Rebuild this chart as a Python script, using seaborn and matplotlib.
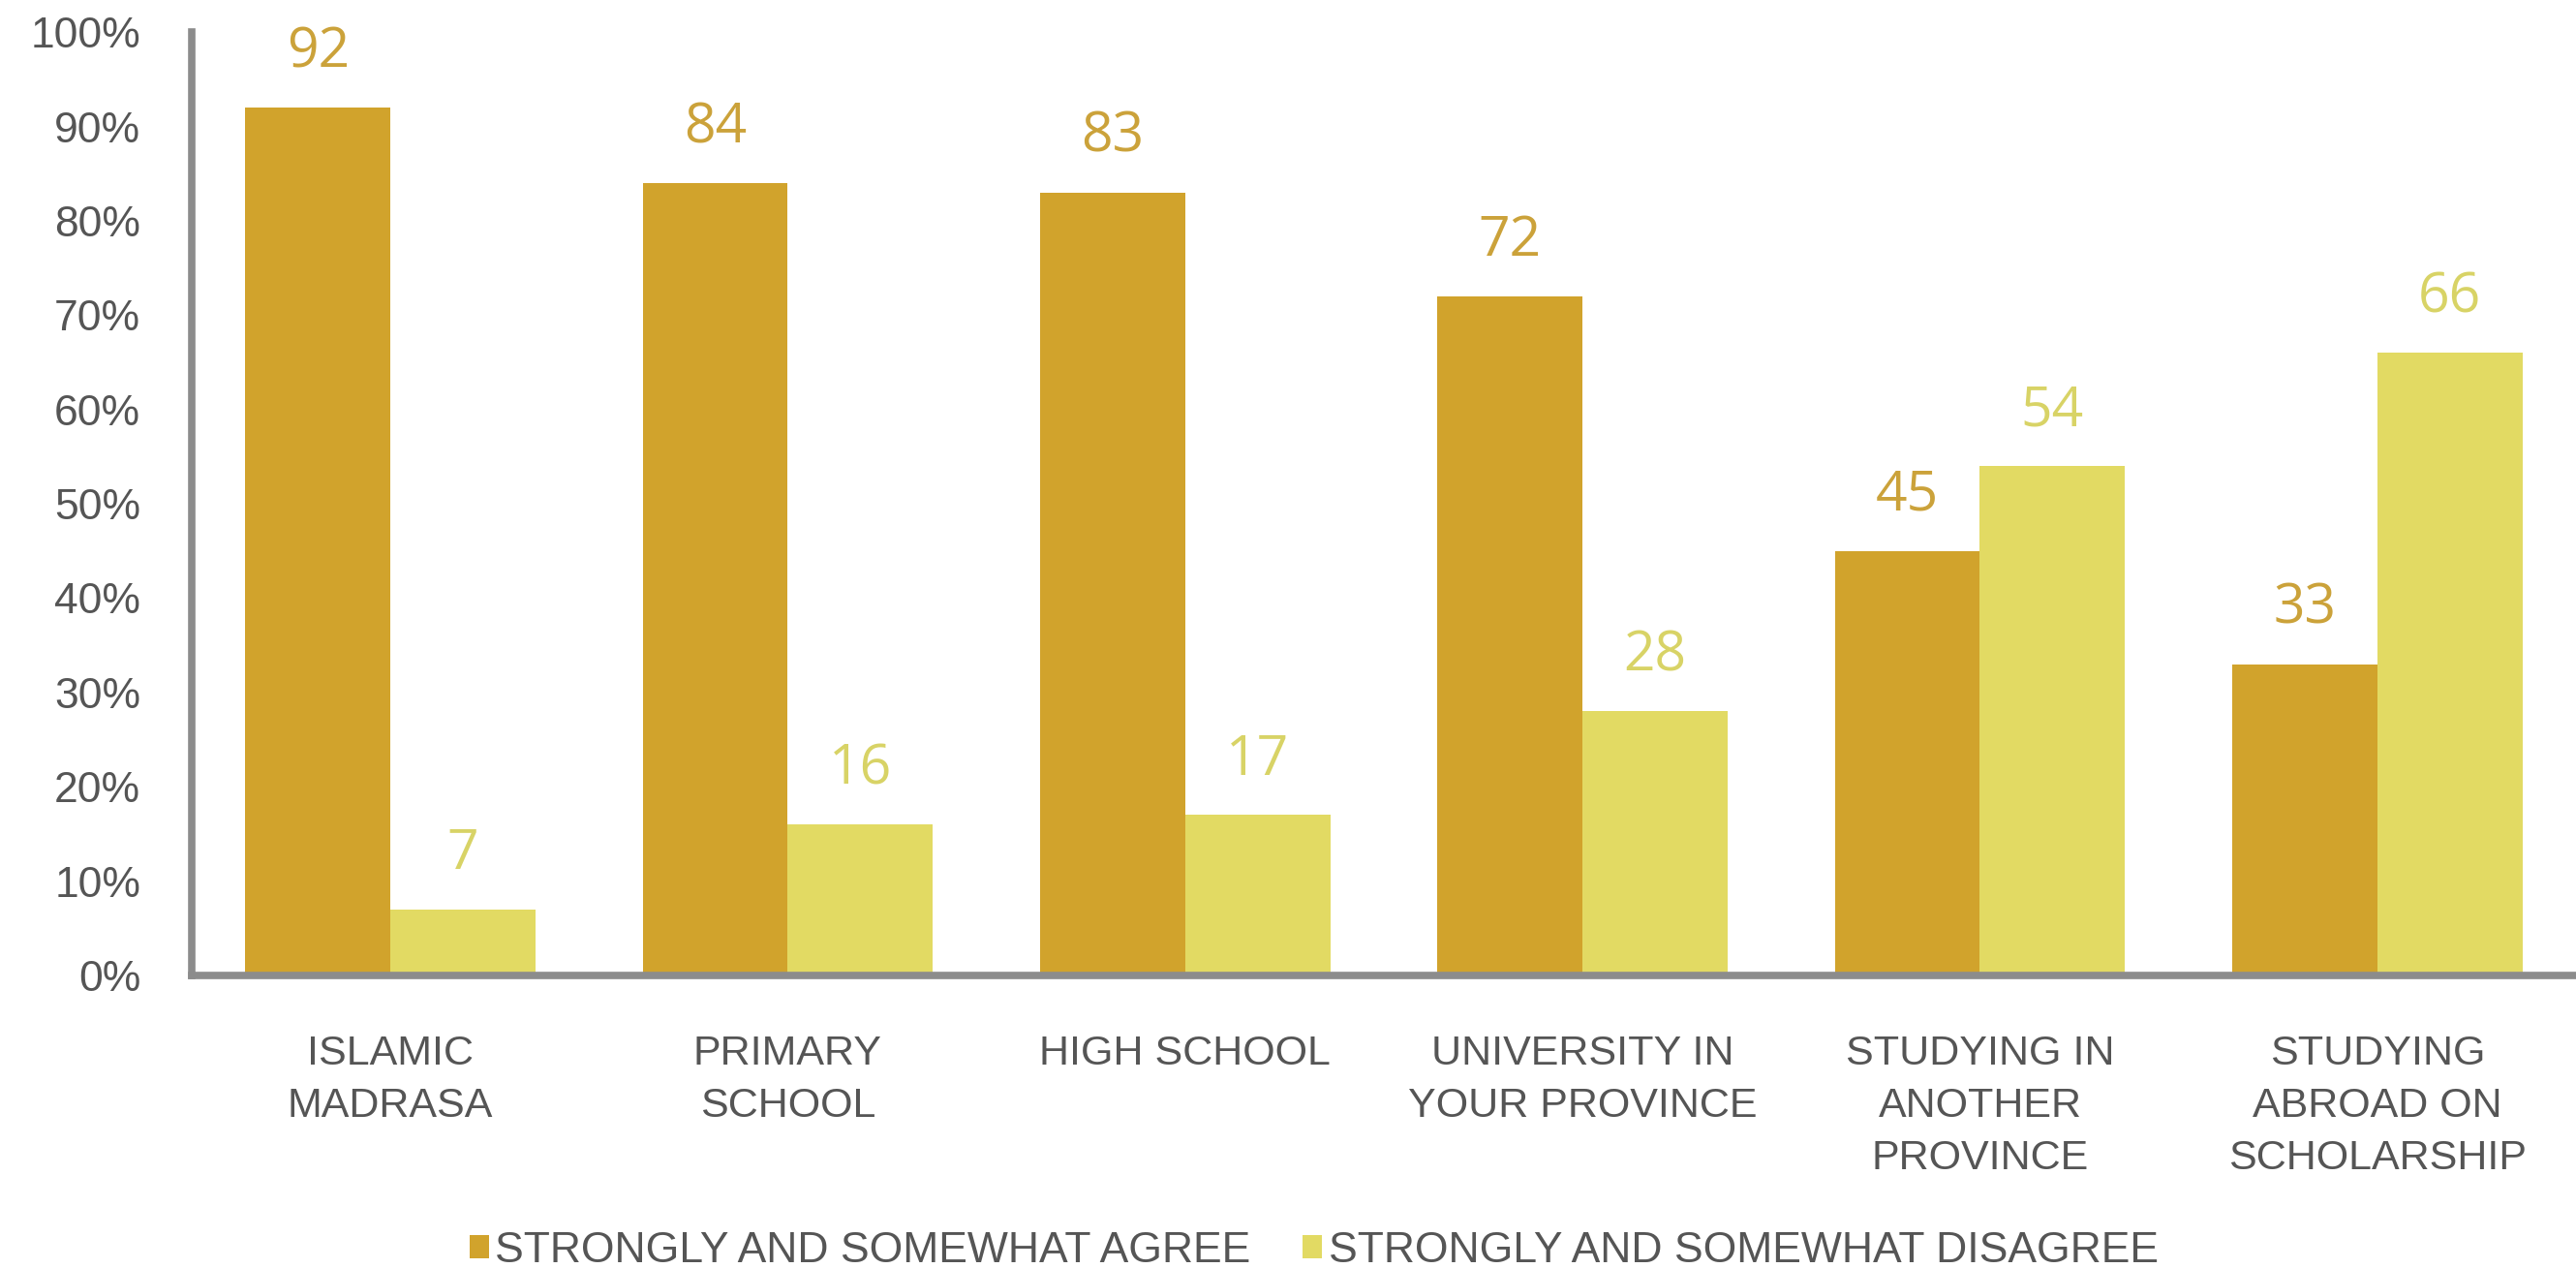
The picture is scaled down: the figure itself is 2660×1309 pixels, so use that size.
import matplotlib.pyplot as plt
import pandas as pd
import seaborn as sns

# data
categories = [
    "ISLAMIC\nMADRASA",
    "PRIMARY\nSCHOOL",
    "HIGH SCHOOL",
    "UNIVERSITY IN\nYOUR PROVINCE",
    "STUDYING IN\nANOTHER\nPROVINCE",
    "STUDYING\nABROAD ON\nSCHOLARSHIP",
]
series = ["STRONGLY AND SOMEWHAT AGREE", "STRONGLY AND SOMEWHAT DISAGREE"]
agree = [92, 84, 83, 72, 45, 33]
disagree = [7, 16, 17, 28, 54, 66]
y_ticks = [0, 10, 20, 30, 40, 50, 60, 70, 80, 90, 100]

bar_colors = ["#D1A32C", "#E2DA63"]
label_colors = ["#CBA23A", "#D8D366"]
text_gray = "#555555"
axis_gray = "#8C8C8C"


def build_frame():
    """
    long-form table for seaborn
    """
    rows = []
    for cat, a, d in zip(categories, agree, disagree):
        rows.append({"category": cat, "group": series[0], "value": a})
        rows.append({"category": cat, "group": series[1], "value": d})
    return pd.DataFrame(rows)


def plot_chart(df):
    sns.set_theme(style="white")
    plt.rcParams["font.family"] = ["Liberation Sans", "DejaVu Sans"]

    fig = plt.figure(figsize=(26.6, 13.09), dpi=100)
    ax = fig.add_axes([0.0744, 0.2307, 0.9256, 0.744])

    sns.barplot(data=df, x="category", y="value", hue="group",
                hue_order=series, order=categories, palette=bar_colors,
                width=0.73, gap=0, saturation=1, linewidth=0,
                ax=ax, errorbar=None)

    # value labels above the bars
    for container, col in zip(ax.containers, label_colors):
        ax.bar_label(container, fmt="%d", padding=20, color=col,
                     fontsize=41, fontfamily="Open Sans")

    ax.set_ylim(0, 100)
    ax.set_xlim(-0.5, 5.5)
    ax.set_yticks(y_ticks)
    ax.set_yticklabels([f"{t}%" for t in y_ticks])
    ax.set_xlabel("")
    ax.set_ylabel("")
    ax.tick_params(axis="y", length=0, pad=38, labelsize=32, labelcolor=text_gray)
    ax.tick_params(axis="x", length=0, pad=44, labelsize=31, labelcolor=text_gray)
    for lbl in ax.get_xticklabels():
        lbl.set_horizontalalignment("center")
        lbl.set_verticalalignment("top")
        lbl.set_multialignment("center")
        lbl.set_linespacing(1.45)

    for side in ["top", "right"]:
        ax.spines[side].set_visible(False)
    for side in ["left", "bottom"]:
        ax.spines[side].set_color(axis_gray)
        ax.spines[side].set_linewidth(5.5)
        ax.spines[side].set_zorder(5)

    # legend at the bottom centre
    handles, labels = ax.get_legend_handles_labels()
    ax.legend_.remove()
    fig.legend(handles, labels, loc="lower center", bbox_to_anchor=(0.51, -0.033),
               ncol=2, frameon=False, fontsize=32, handlelength=0.45,
               handleheight=0.45, handletextpad=0.15, columnspacing=1.2,
               labelcolor=text_gray)

    fig.savefig("out.png", dpi=100)


if __name__ == '__main__':
    plot_chart(build_frame())
